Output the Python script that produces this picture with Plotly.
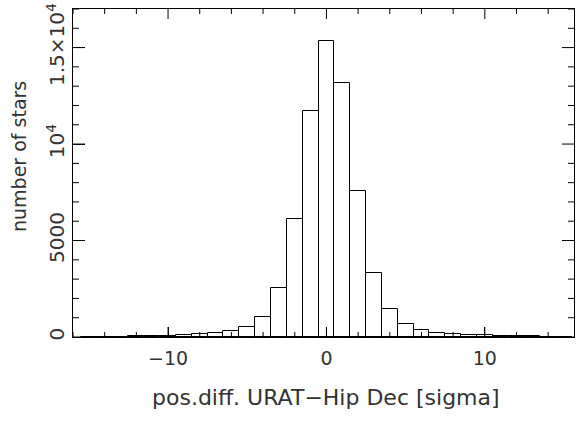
import plotly.graph_objects as go

# bin centers (width 1, sigma units) and counts
bin_centers = list(range(-15, 16))
counts = [10, 10, 20, 60, 50, 50, 90, 170, 200, 290, 510, 1060, 2560, 6100, 11720, 15350,
          13140, 7560, 3340, 1470, 660, 380, 225, 175, 125, 90, 70, 50, 30, 20, 10]

x_tickvals = [-10, 0, 10]
x_ticktext = ["\u221210", "0", "10"]
x_minor_step = 2
y_tickvals = [0, 5000, 10000, 15000]
y_ticktext = ["0", "5000", "10<sup>4</sup>", "1.5\u00d710<sup>4</sup>"]
y_minor_step = 1000

FONT = "DejaVu Sans"
TXT = "#333333"
XR = [-16, 15.63]
YR = [0, 17000]

W, H = 578, 422
ML, MR, MT, MB = 73, 4, 9, 85
pw, ph = W - ML - MR, H - MT - MB

fig = go.Figure()
fig.add_trace(go.Bar(
    x=bin_centers, y=counts, width=1,
    marker=dict(color="white", line=dict(color="black", width=1)),
    showlegend=False, hoverinfo="skip",
))

# tick marks on all four sides (major long, minor short), inside the frame
shapes = []
tline = dict(color="black", width=1)
v = x_minor_step * int(XR[0] / x_minor_step)
while v <= XR[1]:
    L = 10 if v in x_tickvals else 5
    shapes.append(dict(type="line", xref="x", yref="paper", ysizemode="pixel",
                       yanchor=0, x0=v, x1=v, y0=0, y1=L, line=tline, layer="above"))
    shapes.append(dict(type="line", xref="x", yref="paper", ysizemode="pixel",
                       yanchor=1, x0=v, x1=v, y0=0, y1=-L, line=tline, layer="above"))
    v += x_minor_step
v = YR[0]
while v <= YR[1]:
    L = 12 if v in y_tickvals else 6
    shapes.append(dict(type="line", xref="paper", yref="y", xsizemode="pixel",
                       xanchor=0, x0=0, x1=L, y0=v, y1=v, line=tline, layer="above"))
    shapes.append(dict(type="line", xref="paper", yref="y", xsizemode="pixel",
                       xanchor=1, x0=0, x1=-L, y0=v, y1=v, line=tline, layer="above"))
    v += y_minor_step

fig.update_layout(
    template="none",
    width=W, height=H,
    margin=dict(l=ML, r=MR, t=MT, b=MB),
    paper_bgcolor="white", plot_bgcolor="white",
    bargap=0,
    font=dict(family=FONT, size=18, color=TXT),
    shapes=shapes,
    xaxis=dict(
        range=XR, showgrid=False, zeroline=False, automargin=False,
        showline=True, linecolor="black", linewidth=1, mirror=True,
        ticks="inside", ticklen=10, tickcolor="black",
        tickmode="array", tickvals=x_tickvals, ticktext=x_ticktext,
        tickfont=dict(family=FONT, size=19, color=TXT), ticklabelstandoff=4,
    ),
    yaxis=dict(
        range=YR, showgrid=False, zeroline=False, automargin=False,
        showline=True, linecolor="black", linewidth=1, mirror=True,
        ticks="inside", ticklen=12, tickcolor="black",
        tickmode="array", tickvals=y_tickvals, ticktext=y_ticktext, tickangle=-90,
        tickfont=dict(family=FONT, size=20, color=TXT), ticklabelstandoff=0,
    ),
    annotations=[
        dict(text="pos.diff. URAT\u2212Hip Dec [sigma]", xref="paper", yref="paper",
             x=(326 - ML) / pw, y=(MT + ph - 397) / ph, xanchor="center", yanchor="middle",
             showarrow=False, font=dict(family=FONT, size=22, color=TXT)),
        dict(text="number of stars", xref="paper", yref="paper", textangle=-90,
             x=(19 - ML) / pw, y=(MT + ph - 157) / ph, xanchor="center", yanchor="middle",
             showarrow=False, font=dict(family=FONT, size=19, color=TXT)),
    ],
)

fig.write_html("out.html", config={"displayModeBar": False},
               post_script="document.body.style.margin='0';document.body.style.padding='0';")
